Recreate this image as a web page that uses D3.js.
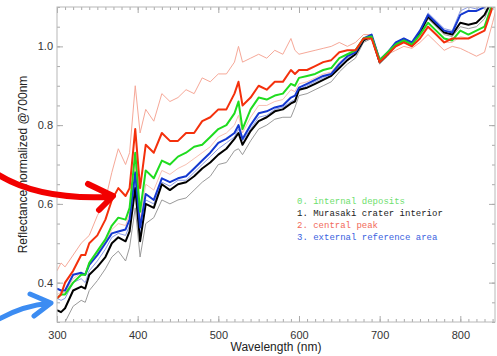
<!DOCTYPE html>
<html>
<head>
<meta charset="utf-8">
<script src="https://cdn.jsdelivr.net/npm/d3@7/dist/d3.min.js"></script>
<style>
  body { margin: 0; background: #fff; }
  svg { display: block; }
  .tick text { font-family: "Liberation Sans", Arial, sans-serif; font-size: 11px; fill: #333; }
  .tick line { stroke: #aaa; }
  .domain { stroke: none; }
</style>
</head>
<body>
<div class="chart"></div>
<script>
// wavelength samples (nm)
let wavelengths = [300, 305, 310, 320, 330, 335, 340, 350, 360, 368, 376, 385, 390, 397, 403, 410, 420, 430, 440, 450,
  460, 470, 480, 490, 500, 510, 520, 525, 530, 540, 550, 560, 570, 580, 590, 595, 600, 610, 620, 630,
  640, 650, 660, 670, 680, 690, 700, 710, 720, 730, 740, 750, 760, 770, 780, 790, 800, 810, 820, 830, 840, 845];

// 2. central peak, mean and upper envelope
let centralPeak = [0.36, 0.37, 0.40, 0.43, 0.47, 0.47, 0.50, 0.52, 0.56, 0.61, 0.64, 0.62, 0.64, 0.79, 0.64, 0.75, 0.73, 0.78, 0.76, 0.76,
  0.78, 0.78, 0.81, 0.82, 0.84, 0.84, 0.88, 0.91, 0.85, 0.87, 0.90, 0.89, 0.91, 0.91, 0.94, 0.93, 0.94, 0.94, 0.95, 0.96,
  0.965, 0.985, 0.99, 0.99, 1.02, 1.02, 0.96, 0.98, 1.0, 1.01, 1.0, 1.02, 1.05, 1.03, 1.01, 1.02, 1.02, 1.02, 1.03, 1.04, 1.10, 1.13];
let centralPeakHi = [0.43, 0.45, 0.44, 0.47, 0.50, 0.51, 0.52, 0.57, 0.61, 0.68, 0.74, 0.70, 0.73, 0.90, 0.78, 0.84, 0.81, 0.88, 0.86, 0.87,
  0.89, 0.88, 0.92, 0.91, 0.93, 0.93, 0.96, 1.00, 0.96, 0.97, 0.98, 0.97, 0.99, 0.98, 1.02, 0.99, 0.98, 0.985, 0.99, 0.995,
  1.0, 1.01, 1.0, 1.01, 1.03, 1.03, 0.97, 0.98, 0.99, 1.0, 0.995, 1.01, 1.03, 1.01, 0.99, 1.0, 0.995, 0.985, 0.975, 0.985, 1.06, 1.10];
let centralPeakLo = [0.37, 0.375, 0.375, 0.41, 0.425, 0.42, 0.45, 0.475, 0.505, 0.535, 0.55, 0.545, 0.575, 0.70, 0.56, 0.65, 0.635, 0.685, 0.675, 0.69,
  0.70, 0.715, 0.73, 0.745, 0.77, 0.78, 0.80, 0.825, 0.78, 0.82, 0.85, 0.85, 0.86, 0.865, 0.89, 0.885, 0.905, 0.91, 0.92, 0.93,
  0.935, 0.96, 0.975, 0.985, 1.02, 1.02, 0.96, 0.98, 1.0, 1.01, 1.0, 1.025, 1.05, 1.03, 1.01, 1.01, 1.025, 1.02, 1.03, 1.04, 1.10, 1.13];

// 0. internal deposits
let internalDeposits = [0.36, 0.37, 0.37, 0.40, 0.42, 0.42, 0.45, 0.48, 0.51, 0.545, 0.565, 0.56, 0.59, 0.73, 0.58, 0.685, 0.665, 0.71, 0.70, 0.72,
  0.73, 0.745, 0.75, 0.77, 0.79, 0.80, 0.83, 0.86, 0.79, 0.84, 0.87, 0.865, 0.875, 0.88, 0.905, 0.90, 0.92, 0.925, 0.93, 0.94,
  0.945, 0.97, 0.98, 0.99, 1.02, 1.025, 0.965, 0.985, 1.005, 1.015, 1.005, 1.03, 1.06, 1.04, 1.02, 1.015, 1.04, 1.03, 1.04, 1.05, 1.11, 1.14];

// 3. external reference area, mean and envelope
let externalRef = [0.385, 0.38, 0.38, 0.42, 0.425, 0.42, 0.445, 0.47, 0.50, 0.525, 0.53, 0.535, 0.56, 0.68, 0.54, 0.625, 0.61, 0.665, 0.655, 0.665,
  0.67, 0.69, 0.71, 0.73, 0.755, 0.765, 0.78, 0.80, 0.765, 0.80, 0.83, 0.835, 0.845, 0.85, 0.87, 0.875, 0.895, 0.905, 0.915, 0.925,
  0.93, 0.955, 0.975, 0.985, 1.02, 1.03, 0.965, 0.985, 1.01, 1.02, 1.01, 1.04, 1.08, 1.06, 1.04, 1.035, 1.08, 1.09, 1.09, 1.10, 1.14, 1.16];
let externalRefLo = [0.36, 0.355, 0.36, 0.40, 0.41, 0.40, 0.43, 0.455, 0.485, 0.515, 0.525, 0.52, 0.545, 0.66, 0.52, 0.61, 0.60, 0.655, 0.645, 0.66,
  0.66, 0.68, 0.70, 0.72, 0.74, 0.755, 0.77, 0.79, 0.76, 0.79, 0.82, 0.825, 0.84, 0.845, 0.86, 0.865, 0.89, 0.90, 0.91, 0.92,
  0.93, 0.95, 0.97, 0.985, 1.02, 1.03, 0.965, 0.985, 1.01, 1.02, 1.01, 1.04, 1.085, 1.065, 1.045, 1.04, 1.09, 1.10, 1.095, 1.11, 1.15, 1.17];

// 1. Murasaki crater interior, mean and lower envelope
let craterInterior = [0.33, 0.325, 0.335, 0.38, 0.39, 0.385, 0.42, 0.44, 0.465, 0.50, 0.515, 0.505, 0.53, 0.64, 0.505, 0.60, 0.59, 0.65, 0.635, 0.65,
  0.655, 0.67, 0.69, 0.705, 0.725, 0.74, 0.765, 0.78, 0.75, 0.785, 0.81, 0.82, 0.835, 0.84, 0.855, 0.86, 0.89, 0.895, 0.905, 0.915,
  0.925, 0.945, 0.965, 0.98, 1.015, 1.025, 0.96, 0.98, 1.005, 1.015, 1.005, 1.035, 1.075, 1.055, 1.035, 1.03, 1.06, 1.055, 1.06, 1.08, 1.12, 1.15];
let craterInteriorLo = [0.30, 0.29, 0.30, 0.34, 0.355, 0.35, 0.38, 0.405, 0.435, 0.465, 0.48, 0.455, 0.49, 0.59, 0.465, 0.55, 0.565, 0.61, 0.60, 0.61,
  0.615, 0.635, 0.655, 0.67, 0.70, 0.705, 0.735, 0.74, 0.725, 0.76, 0.79, 0.80, 0.815, 0.82, 0.82, 0.845, 0.875, 0.88, 0.89, 0.90,
  0.91, 0.935, 0.955, 0.97, 1.01, 1.02, 0.955, 0.975, 1.0, 1.01, 1.0, 1.03, 1.07, 1.05, 1.03, 1.025, 1.05, 1.045, 1.05, 1.07, 1.12, 1.15];

let legendLabels = ["0. internal deposits", "1. Murasaki crater interior", "2. central peak", "3. external reference area"];
let legendColors = ["#6ee06e", "#222222", "#f26a5a", "#3a62e0"];

let width = 497, height = 356;
let plot = { left: 57, right: 495, top: 7, bottom: 322 };

let svg = d3.select(".chart").append("svg")
  .attr("width", width)
  .attr("height", height);

let x = d3.scaleLinear().domain([300, 843]).range([plot.left, plot.right]);
let y = d3.scaleLinear().domain([0.3, 1.1]).range([plot.bottom, plot.top]);

svg.append("clipPath").attr("id", "plotClip")
  .append("rect")
  .attr("x", plot.left).attr("y", plot.top)
  .attr("width", plot.right - plot.left).attr("height", plot.bottom - plot.top);

// spectra, thin envelopes first then the thick means
let series = [
  { values: centralPeakHi, color: "#f6a898", w: 1 },
  { values: craterInteriorLo, color: "#9a9a9a", w: 1 },
  { values: centralPeakLo, color: "#f7c0b2", w: 1 },
  { values: externalRefLo, color: "#8b9be6", w: 1 },
  { values: craterInterior, color: "#000000", w: 2 },
  { values: externalRef, color: "#1438d0", w: 2 },
  { values: internalDeposits, color: "#1fdc1f", w: 2 },
  { values: centralPeak, color: "#f4300c", w: 2 }
];

let line = d3.line()
  .x((d, i) => x(wavelengths[i]))
  .y(d => y(d));

let lines = svg.append("g").attr("clip-path", "url(#plotClip)");
series.forEach(function (s) {
  lines.append("path")
    .datum(s.values)
    .attr("fill", "none")
    .attr("stroke", s.color)
    .attr("stroke-width", s.w)
    .attr("stroke-linejoin", "round")
    .attr("d", line);
});

// axes with inward ticks, IDL style
let xMajor = d3.range(300, 801, 100);
let xMinor = d3.range(300, 843, 10);
let yMajor = [0.4, 0.6, 0.8, 1.0];
let yMinor = d3.range(0.3, 1.1001, 0.05);

svg.append("g").attr("transform", "translate(0," + plot.bottom + ")")
  .call(d3.axisBottom(x).tickValues(xMinor).tickSize(-3).tickFormat(""));
svg.append("g").attr("transform", "translate(0," + plot.bottom + ")")
  .call(d3.axisBottom(x).tickValues(xMajor).tickSize(-6).tickPadding(9).tickFormat(d3.format("d")));
svg.append("g").attr("transform", "translate(0," + plot.top + ")")
  .call(d3.axisTop(x).tickValues(xMinor).tickSize(-3).tickFormat(""));
svg.append("g").attr("transform", "translate(0," + plot.top + ")")
  .call(d3.axisTop(x).tickValues(xMajor).tickSize(-6).tickFormat(""));

svg.append("g").attr("transform", "translate(" + plot.left + ",0)")
  .call(d3.axisLeft(y).tickValues(yMinor).tickSize(-3).tickFormat(""));
svg.append("g").attr("transform", "translate(" + plot.left + ",0)")
  .call(d3.axisLeft(y).tickValues(yMajor).tickSize(-6).tickPadding(4).tickFormat(d3.format(".1f")));
svg.append("g").attr("transform", "translate(" + plot.right + ",0)")
  .call(d3.axisRight(y).tickValues(yMinor).tickSize(-3).tickFormat(""));
svg.append("g").attr("transform", "translate(" + plot.right + ",0)")
  .call(d3.axisRight(y).tickValues(yMajor).tickSize(-6).tickFormat(""));

svg.append("rect")
  .attr("x", plot.left).attr("y", plot.top)
  .attr("width", plot.right - plot.left).attr("height", plot.bottom - plot.top)
  .attr("fill", "none")
  .attr("stroke", "#b8b8b8");

// axis titles
svg.append("text")
  .attr("x", (plot.left + plot.right) / 2)
  .attr("y", 351)
  .attr("text-anchor", "middle")
  .attr("font-family", "Liberation Sans, Arial, sans-serif")
  .attr("font-size", "12px")
  .attr("fill", "#222")
  .text("Wavelength (nm)");

svg.append("text")
  .attr("transform", "translate(27," + ((plot.top + plot.bottom) / 2) + ") rotate(-90)")
  .attr("text-anchor", "middle")
  .attr("font-family", "Liberation Sans, Arial, sans-serif")
  .attr("font-size", "12px")
  .attr("fill", "#222")
  .text("Reflectance normalized @700nm");

// legend
let legend = svg.append("g");
legendLabels.forEach(function (label, i) {
  legend.append("text")
    .attr("x", 297)
    .attr("y", 204 + i * 12)
    .attr("font-family", "Liberation Mono, monospace")
    .attr("font-size", "9px")
    .attr("fill", legendColors[i])
    .text(label);
});

// annotation arrows
let arrows = svg.append("g").attr("fill", "none").attr("stroke-linecap", "round").attr("stroke-linejoin", "round");
arrows.append("path")
  .attr("d", "M-6,172 Q35,200 108,197 M88,184 L113,196 L99,210")
  .attr("stroke", "#f20000")
  .attr("stroke-width", 6);
arrows.append("path")
  .attr("d", "M-6,322 Q20,306 50,303 M30,294 L51,303 L34,316")
  .attr("stroke", "#3c8cf2")
  .attr("stroke-width", 5);
</script>
</body>
</html>
